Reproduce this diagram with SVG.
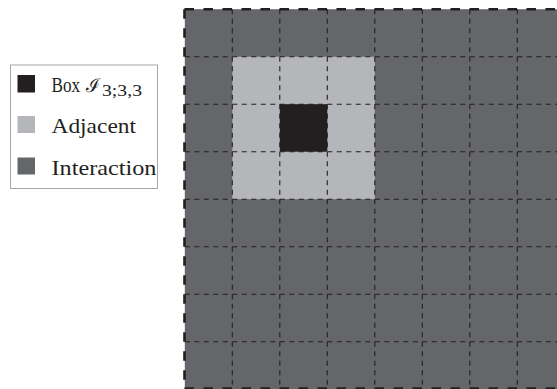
<svg xmlns="http://www.w3.org/2000/svg" width="557" height="389" viewBox="0 0 557 389">
  <style>
    .dark { fill: #65666a; }
    .light { fill: #b5b6b9; }
    .core { fill: #231f20; }
    .grid { stroke: #231f20; stroke-width: 1.1; stroke-dasharray: 5 4.5; fill: none; }
    .edge { stroke: #231f20; stroke-width: 2.6; stroke-dasharray: 9.5 9.5; fill: none; }
  </style>

  <!-- legend -->
  <g id="legend" font-family="'Liberation Serif', 'Times New Roman', serif" fill="#231f20">
    <rect x="10.5" y="65" width="147" height="123.5" fill="#ffffff" stroke="#a8a8a8" stroke-width="1"/>
    <g id="legend-box">
      <rect class="core" x="17.5" y="75" width="17.5" height="17.5"/>
      <!-- label squeezed horizontally to keep the math symbol clear -->
      <text transform="translate(51.5 92.3) scale(0.78 1)" font-size="22">Box</text>
      <text x="86" y="92.3" font-size="19" font-family="'DejaVu Serif', serif" textLength="14" lengthAdjust="spacingAndGlyphs">ℐ</text>
      <text x="102" y="96" font-size="16" textLength="40" lengthAdjust="spacingAndGlyphs">3;3,3</text>
    </g>
    <g id="legend-adjacent">
      <rect class="light" x="17.5" y="116" width="17.5" height="17"/>
      <text x="51.5" y="132.5" font-size="22" textLength="84.5" lengthAdjust="spacingAndGlyphs">Adjacent</text>
    </g>
    <g id="legend-interaction">
      <rect class="dark" x="17.5" y="157.5" width="17.5" height="17"/>
      <text x="51.5" y="174.5" font-size="22" textLength="105" lengthAdjust="spacingAndGlyphs">Interaction</text>
    </g>
  </g>

  <!-- cell fills: interaction field, adjacent ring, central box -->
  <g id="cells">
    <rect id="interaction" class="dark" x="184.8" y="9.2" width="380" height="380"/>
    <rect id="adjacent" class="light" x="232.3" y="56.7" width="142.5" height="142.5"/>
    <rect id="box" class="core" x="279.8" y="104.2" width="47.5" height="47.5"/>
  </g>

  <!-- grid lines and outer boundary -->
  <g id="connectors">
    <path class="grid" d="M184.8 56.7H560 M184.8 104.2H560 M184.8 151.7H560 M184.8 199.2H560 M184.8 246.7H560 M184.8 294.2H560 M184.8 341.7H560"/>
    <path class="grid" d="M232.3 9.2V389 M279.8 9.2V389 M327.3 9.2V389 M374.8 9.2V389 M422.3 9.2V389 M469.8 9.2V389 M517.3 9.2V389"/>
    <path class="edge" d="M184.5 9.2H560"/>
    <path class="edge" d="M184.5 9.2V392"/>
    <path class="edge" d="M184.5 388.6H560"/>
  </g>
</svg>
